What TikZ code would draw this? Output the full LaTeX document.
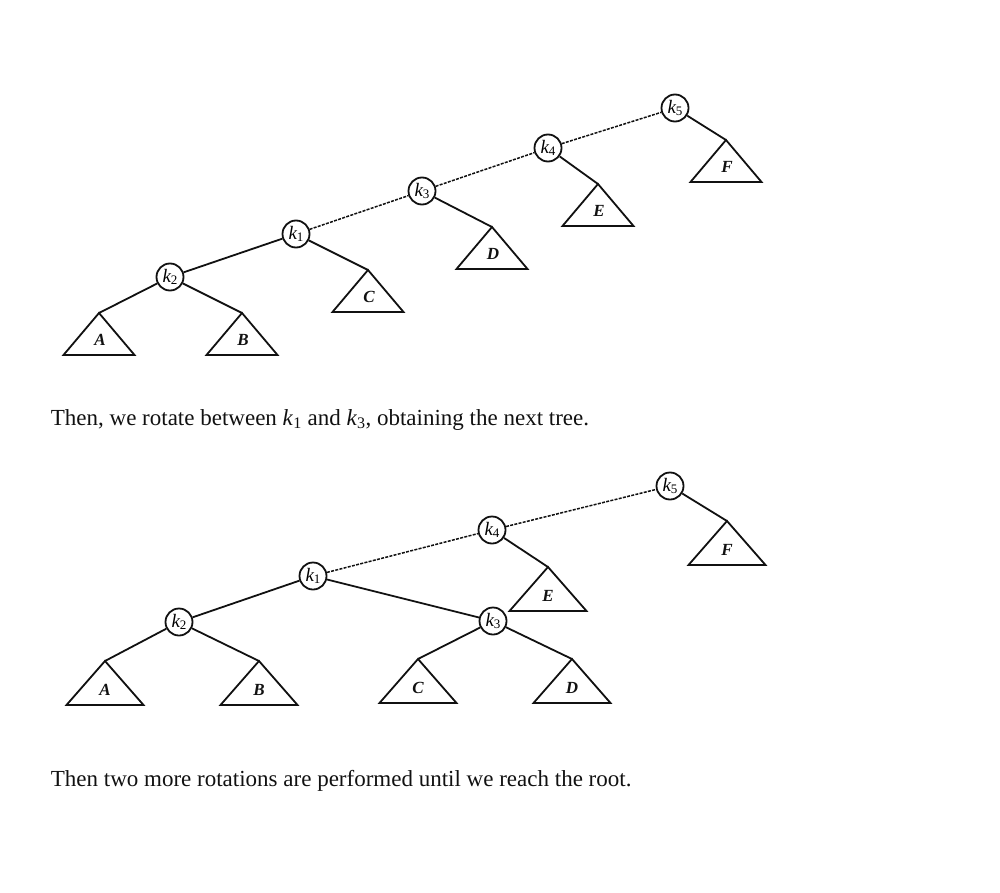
\documentclass[tikz,border=0pt]{standalone}
\usepackage{fontspec}
\setmainfont{Liberation Serif}
\usetikzlibrary{calc,positioning}
\definecolor{ink}{HTML}{111111}
\newcommand{\Caption}{\fontsize{23}{27}\selectfont}
\newcommand{\Keyfont}{\fontsize{19}{21}\selectfont}
\newcommand{\Treefont}{\fontsize{17}{19}\selectfont\bfseries\itshape}
\newcommand{\kk}[1]{\textit{k}\kern-0.5pt\raisebox{-0.25ex}{\fontsize{13}{14}\selectfont #1}}
\newcommand{\kt}[1]{\textit{k}\textsubscript{#1}}

\begin{document}
\begin{tikzpicture}[x=1pt,y=-1pt, line width=1.8pt, draw=ink,
    key/.style={circle,draw=ink,minimum size=27pt,inner sep=0pt,font=\Keyfont},
    link/.style={draw=ink,line width=1.5pt,dash pattern=on 3pt off 1.3pt}]
  \useasboundingbox (0,0) rectangle (1000,893);
  % upper tree: keys
  \node[key] (uk5) at (675,108){\kk{5}};
  \node[key] (uk4) at (548,148){\kk{4}};
  \node[key] (uk3) at (422,191){\kk{3}};
  \node[key] (uk1) at (296,234){\kk{1}};
  \node[key] (uk2) at (170,277){\kk{2}};
  % upper tree: subtrees (apex x/y)
  \foreach \t/\ax/\ay in {A/99/313, B/242/313, C/368/270, D/492/227, E/598/184, F/726/140}{
    \coordinate (u\t) at (\ax,\ay);
    \draw (u\t) -- ++(-35.5,42) -- ++(71,0) -- cycle;
    \node[font=\Treefont,text=ink] (ul\t) at ($(u\t)+(1,27)$){\t};}
  \draw (uk2) -- (uk1);
  \draw[link] (uk1) -- (uk3); \draw[link] (uk3) -- (uk4); \draw[link] (uk4) -- (uk5);
  \draw (uk2) -- (uA); \draw (uk2) -- (uB); \draw (uk1) -- (uC);
  \draw (uk3) -- (uD); \draw (uk4) -- (uE); \draw (uk5) -- (uF);
  \node[anchor=base west,font=\Caption,text=ink,inner sep=0pt] (cap1) at (50,425)
    {Then, we rotate between \kt{1} and \kt{3}, obtaining the next tree.};
  % lower tree: keys
  \node[key] (lk5) at (670,486){\kk{5}};
  \node[key] (lk4) at (492,530){\kk{4}};
  \node[key] (lk1) at (313,576){\kk{1}};
  \node[key] (lk3) at (493,621){\kk{3}};
  \node[key] (lk2) at (179,622){\kk{2}};
  % lower tree: subtrees (apex x/y)
  \foreach \t/\ax/\ay in {A/105/661, B/259/661, C/418/659, D/572/659, E/548/567, F/727/521}{
    \coordinate (l\t) at (\ax,\ay);
    \draw (l\t) -- ++(-38.5,44) -- ++(77,0) -- cycle;
    \node[font=\Treefont,text=ink] (ll\t) at ($(l\t)+(0,29)$){\t};}
  \draw (lk2) -- (lk1); \draw (lk1) -- (lk3);
  \draw[link] (lk1) -- (lk4); \draw[link] (lk4) -- (lk5);
  \draw (lk2) -- (lA); \draw (lk2) -- (lB); \draw (lk3) -- (lC);
  \draw (lk3) -- (lD); \draw (lk4) -- (lE); \draw (lk5) -- (lF);
  \node[anchor=base west,font=\Caption,text=ink,inner sep=0pt] (cap2) at (50,786)
    {Then two more rotations are performed until we reach the root.};
\end{tikzpicture}
\end{document}
